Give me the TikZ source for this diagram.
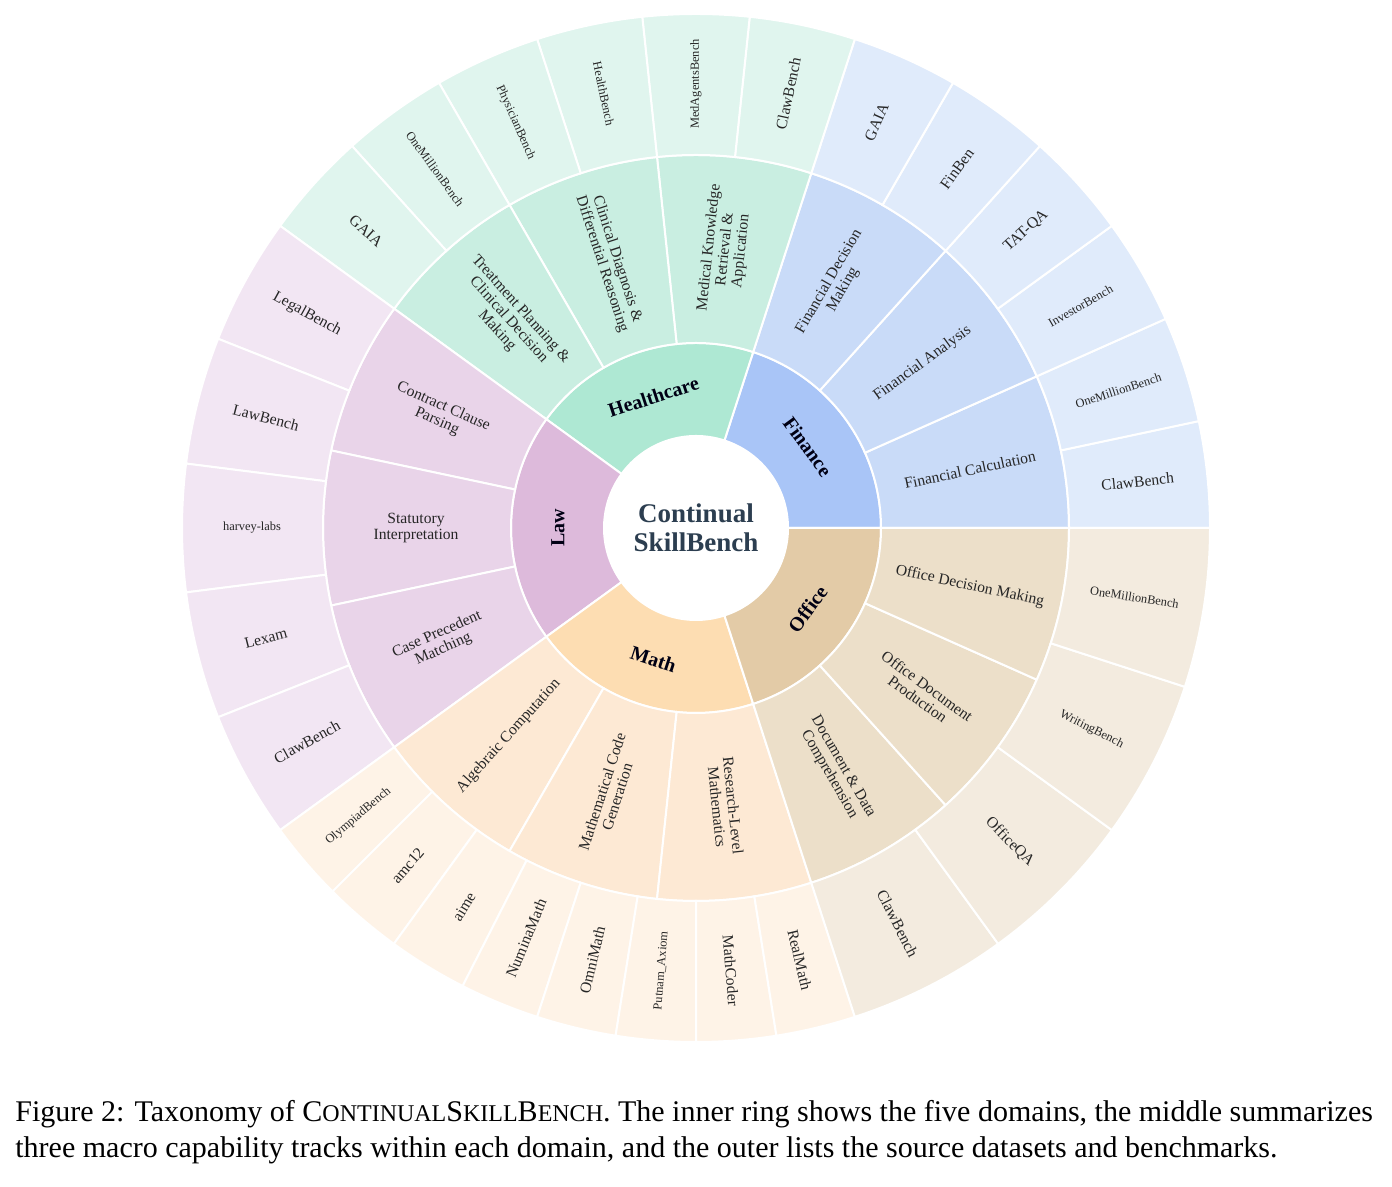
\documentclass[tikz,border=0pt]{standalone}
\usepackage{fontspec}
\setmainfont{Liberation Serif}
\begin{document}
\begin{tikzpicture}[x=1pt,y=1pt,
  sec/.style={draw=white,line width=1pt},
  lbl/.style={align=center,inner sep=0pt,text=black!85,font=\fontsize{7.8}{8}\selectfont},
  dom/.style={align=center,inner sep=0pt,text=black!80!blue!40!black,font=\fontsize{10}{10.5}\selectfont\bfseries}]
\useasboundingbox (0,0) rectangle (696,593.5);
\definecolor{fin1}{HTML}{A9C5F7}\definecolor{fin2}{HTML}{C9DBF8}\definecolor{fin3}{HTML}{E0EBFB}
\definecolor{hea1}{HTML}{AEE8D3}\definecolor{hea2}{HTML}{C9EEE1}\definecolor{hea3}{HTML}{E0F5EE}
\definecolor{law1}{HTML}{DDBADB}\definecolor{law2}{HTML}{E9D4E9}\definecolor{law3}{HTML}{F2E6F3}
\definecolor{mat1}{HTML}{FDDDB2}\definecolor{mat2}{HTML}{FDE9D4}\definecolor{mat3}{HTML}{FEF3E7}
\definecolor{off1}{HTML}{E3CBA7}\definecolor{off2}{HTML}{ECDFC9}\definecolor{off3}{HTML}{F3EBDF}
\definecolor{ttl}{HTML}{2C3E50}
\newcommand\sect[5]{\fill[#5,sec] (#1:#3) arc[start angle=#1,end angle=#2,radius=#3] -- (#2:#4) arc[start angle=#2,end angle=#1,radius=#4] -- cycle;}
\newcommand\rlab[4][lbl]{\pgfmathsetmacro\rr{cos(#2)<0 ? #2-180 : #2}\node[#1,rotate=\rr] (n#2x#3) at (#2:#3) {#4};}
\newcommand\tlab[3]{\pgfmathsetmacro\rr{sin(#1)<-0.01 ? #1+90 : #1-90}\node[dom,rotate=\rr] (d#1) at (#1:#2) {#3};}
\begin{scope}[shift={(348,329.5)}]
% ring 1
\sect{0}{72}{46}{92.5}{fin1}\sect{72}{144}{46}{92.5}{hea1}\sect{144}{216}{46}{92.5}{law1}
\sect{216}{288}{46}{92.5}{mat1}\sect{288}{360}{46}{92.5}{off1}
% ring 2
\foreach \c [count=\i from 0] in {fin2,fin2,fin2,hea2,hea2,hea2,law2,law2,law2,mat2,mat2,mat2,off2,off2,off2}{
  \pgfmathsetmacro\a{24*\i}\pgfmathsetmacro\b{24*\i+24}\sect{\a}{\b}{92.5}{186.5}{\c}}
% ring 3
\foreach \i in {0,...,5}{\pgfmathsetmacro\a{12*\i}\pgfmathsetmacro\b{12*\i+12}\sect{\a}{\b}{186.5}{257}{fin3}}
\foreach \i in {0,...,5}{\pgfmathsetmacro\a{72+12*\i}\pgfmathsetmacro\b{84+12*\i}\sect{\a}{\b}{186.5}{257}{hea3}}
\foreach \i in {0,...,4}{\pgfmathsetmacro\a{144+14.4*\i}\pgfmathsetmacro\b{158.4+14.4*\i}\sect{\a}{\b}{186.5}{257}{law3}}
\foreach \i in {0,...,7}{\pgfmathsetmacro\a{216+9*\i}\pgfmathsetmacro\b{225+9*\i}\sect{\a}{\b}{186.5}{257}{mat3}}
\foreach \i in {0,...,3}{\pgfmathsetmacro\a{288+18*\i}\pgfmathsetmacro\b{306+18*\i}\sect{\a}{\b}{186.5}{257}{off3}}
\fill[white] (0,0) circle (45);
\node[align=center,text=ttl,font=\fontsize{13.5}{14.5}\selectfont\bfseries] (center) at (0,0) {Continual\\SkillBench};
% domain labels
\tlab{36}{69}{Finance}\tlab{108}{69}{Healthcare}\tlab{180}{69}{Law}\tlab{252}{69}{Math}\tlab{324}{69}{Office}
% tracks
\rlab{12}{140}{Financial Calculation}
\rlab{36}{140}{Financial Analysis}
\rlab{60}{140}{Financial Decision\\Making}
\rlab{84}{140}{Medical Knowledge\\Retrieval \&\\Application}
\rlab{108}{140}{Clinical Diagnosis \&\\Differential Reasoning}
\rlab{132}{140}{Treatment Planning \&\\Clinical Decision\\Making}
\rlab{156}{140}{Contract Clause\\Parsing}
\rlab{180}{140}{Statutory\\Interpretation}
\rlab{204}{140}{Case Precedent\\Matching}
\rlab{228}{140}{Algebraic Computation}
\rlab{252}{140}{Mathematical Code\\Generation}
\rlab{276}{140}{Research-Level\\Mathematics}
\rlab{300}{140}{Document \& Data\\Comprehension}
\rlab{324}{140}{Office Document\\Production}
\rlab{348}{140}{Office Decision Making}
% datasets
\tikzset{sm/.style={lbl,font=\fontsize{6.2}{6.5}\selectfont}}
\rlab{6}{222}{ClawBench}\rlab[sm]{18}{222}{OneMillionBench}\rlab[sm]{30}{222}{InvestorBench}
\rlab{42}{222}{TAT-QA}\rlab{54}{222}{FinBen}\rlab{66}{222}{GAIA}
\rlab{78}{222}{ClawBench}\rlab[sm]{90}{222}{MedAgentsBench}\rlab[sm]{102}{222}{HealthBench}
\rlab[sm]{114}{222}{PhysicianBench}\rlab[sm]{126}{222}{OneMillionBench}\rlab{138}{222}{GAIA}
\rlab{151.2}{222}{LegalBench}\rlab{165.6}{222}{LawBench}\rlab[sm]{180}{222}{harvey-labs}
\rlab{194.4}{222}{Lexam}\rlab{208.8}{222}{ClawBench}
\rlab[sm]{220.5}{222}{OlympiadBench}\rlab{229.5}{222}{amc12}\rlab{238.5}{222}{aime}
\rlab{247.5}{222}{NuminaMath}\rlab{256.5}{222}{OmniMath}\rlab[sm]{265.5}{222}{Putnam\_Axiom}
\rlab{274.5}{222}{MathCoder}\rlab{283.5}{222}{RealMath}
\rlab{297}{222}{ClawBench}\rlab{315}{222}{OfficeQA}\rlab[sm]{333}{222}{WritingBench}\rlab[sm]{351}{222}{OneMillionBench}
\end{scope}
\node[anchor=west,inner sep=0pt,font=\fontsize{15}{16}\selectfont] (cap1) at (7.5,36.5) {Figure 2: Taxonomy of C{\fontsize{12}{13}\selectfont ONTINUAL}S{\fontsize{12}{13}\selectfont KILL}B{\fontsize{12}{13}\selectfont ENCH}. The inner ring shows the five domains, the middle summarizes};
\node[anchor=west,inner sep=0pt,font=\fontsize{15}{16}\selectfont] (cap2) at (7.5,18.5) {three macro capability tracks within each domain, and the outer lists the source datasets and benchmarks.};
\end{tikzpicture}
\end{document}
